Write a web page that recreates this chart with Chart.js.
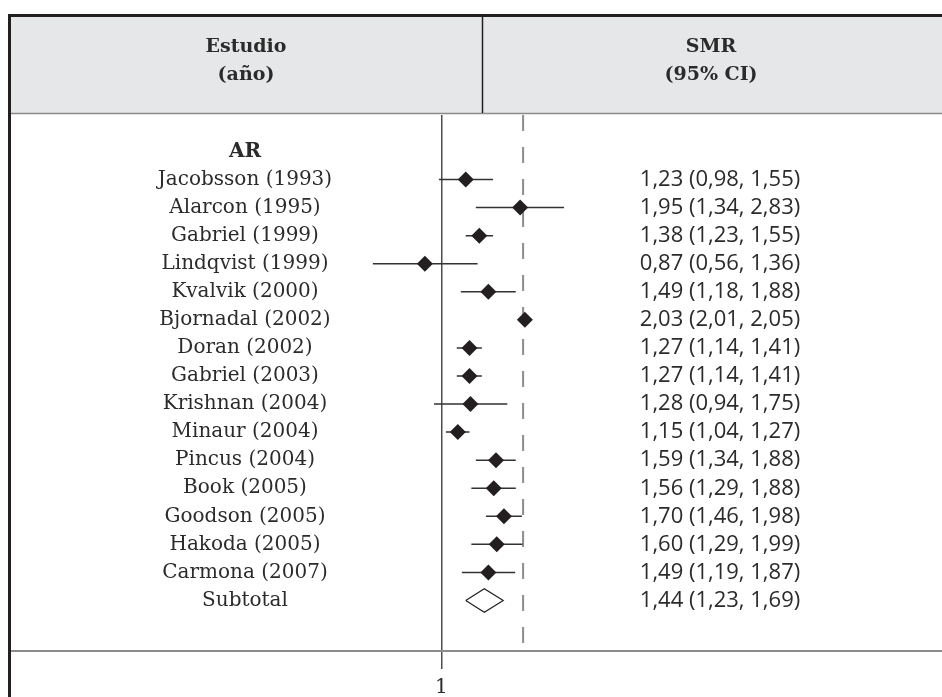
<!DOCTYPE html>
<html>
<head>
<meta charset="utf-8">
<script src="https://cdn.jsdelivr.net/npm/chart.js@4"></script>
<style>
  html, body { margin: 0; padding: 0; background: #fff; }
  canvas { display: block; }
</style>
</head>
<body>
<canvas id="forest" width="942" height="697"></canvas>
<script>
// datos del forest plot (SMR con IC 95%)
const grupo = 'AR';
const estudios = ['Jacobsson (1993)', 'Alarcon (1995)', 'Gabriel (1999)', 'Lindqvist (1999)',
  'Kvalvik (2000)', 'Bjornadal (2002)', 'Doran (2002)', 'Gabriel (2003)', 'Krishnan (2004)',
  'Minaur (2004)', 'Pincus (2004)', 'Book (2005)', 'Goodson (2005)', 'Hakoda (2005)', 'Carmona (2007)'];
const smr   = [1.23, 1.95, 1.38, 0.87, 1.49, 2.03, 1.27, 1.27, 1.28, 1.15, 1.59, 1.56, 1.70, 1.60, 1.49];
const icInf = [0.98, 1.34, 1.23, 0.56, 1.18, 2.01, 1.14, 1.14, 0.94, 1.04, 1.34, 1.29, 1.46, 1.29, 1.19];
const icSup = [1.55, 2.83, 1.55, 1.36, 1.88, 2.05, 1.41, 1.41, 1.75, 1.27, 1.88, 1.88, 1.98, 1.99, 1.87];
const subtotalEtiqueta = 'Subtotal';
const subtotalSmr = [1.44, 1.23, 1.69]; // estimado, inferior, superior
const smrGlobal = 2.0; // linea discontinua
const ticksX = [1];
const cabeceraEstudio = ['Estudio', '(año)'];
const cabeceraSmr = ['SMR', '(95% CI)'];

const filaSub = estudios.length + 1;
const yMin = -1.3, yMax = 17.8;
const coma = v => v.toFixed(2).replace('.', ',');

const puntos = smr.map((v, i) => ({ x: v, y: i + 1 }));
const lineasIC = [];
icInf.forEach((lo, i) => {
  lineasIC.push({ x: lo, y: i + 1 }, { x: icSup[i], y: i + 1 }, { x: null, y: null });
});
const rombo = [
  { x: subtotalSmr[1], y: filaSub },
  { x: subtotalSmr[0], y: filaSub - 0.42 },
  { x: subtotalSmr[2], y: filaSub },
  { x: subtotalSmr[0], y: filaSub + 0.42 },
  { x: subtotalSmr[1], y: filaSub }
];
const lineaGlobal = [{ x: smrGlobal, y: yMin }, { x: smrGlobal, y: yMax }];

const colorTexto = '#2b2b2b';
const fuenteSerif = '"DejaVu Serif", serif';
const fuenteSans = '"Open Sans", sans-serif';

// tabla, cabecera y textos
const tabla = {
  id: 'tabla',
  beforeDraw(chart) {
    const { ctx, width, height } = chart;
    ctx.save();
    ctx.fillStyle = '#fff';
    ctx.fillRect(0, 0, width, height);
    ctx.fillStyle = '#e6e7e8';
    ctx.fillRect(11, 17, width - 11, 96);

    ctx.strokeStyle = '#8a8a8a';
    ctx.lineWidth = 1.5;
    ctx.beginPath(); ctx.moveTo(11, 113.5); ctx.lineTo(width, 113.5); ctx.stroke();

    ctx.strokeStyle = '#231f20';
    ctx.lineWidth = 3;
    ctx.beginPath(); ctx.moveTo(8, 15.5); ctx.lineTo(width, 15.5); ctx.stroke();
    ctx.beginPath(); ctx.moveTo(9.5, 14); ctx.lineTo(9.5, height); ctx.stroke();
    ctx.lineWidth = 1.5;
    ctx.beginPath(); ctx.moveTo(482.5, 17); ctx.lineTo(482.5, 113); ctx.stroke();

    ctx.fillStyle = colorTexto;
    ctx.textAlign = 'center';
    ctx.textBaseline = 'middle';
    ctx.font = 'bold 19px ' + fuenteSerif;
    ctx.fillText(cabeceraEstudio[0], 246, 47);
    ctx.fillText(cabeceraEstudio[1], 246, 75);
    ctx.fillText(cabeceraSmr[0], 711, 47);
    ctx.fillText(cabeceraSmr[1], 711, 75);
    ctx.restore();
  },
  beforeDatasetsDraw(chart) {
    // linea horizontal del eje, de borde a borde
    const { ctx, width } = chart;
    const yEje = chart.chartArea.bottom;
    ctx.save();
    ctx.strokeStyle = '#8c8c8c';
    ctx.lineWidth = 2;
    ctx.beginPath(); ctx.moveTo(11, yEje); ctx.lineTo(width, yEje); ctx.stroke();
    ctx.restore();
  },
  afterDraw(chart) {
    const { ctx } = chart;
    const y = chart.scales.y;
    ctx.save();
    ctx.fillStyle = colorTexto;
    ctx.textAlign = 'center';
    ctx.textBaseline = 'middle';
    ctx.font = 'bold 20px ' + fuenteSerif;
    ctx.fillText(grupo, 245, y.getPixelForValue(0));
    ctx.font = '20px ' + fuenteSerif;
    estudios.forEach((e, i) => ctx.fillText(e, 245, y.getPixelForValue(i + 1)));
    ctx.fillText(subtotalEtiqueta, 245, y.getPixelForValue(filaSub));
    ctx.font = '22px ' + fuenteSans;
    smr.forEach((v, i) => {
      ctx.fillText(coma(v) + ' (' + coma(icInf[i]) + ', ' + coma(icSup[i]) + ')', 720, y.getPixelForValue(i + 1));
    });
    ctx.fillText(coma(subtotalSmr[0]) + ' (' + coma(subtotalSmr[1]) + ', ' + coma(subtotalSmr[2]) + ')',
      720, y.getPixelForValue(filaSub));
    ctx.restore();
  }
};

const ctx = document.getElementById('forest').getContext('2d');
new Chart(ctx, {
  type: 'scatter',
  data: {
    datasets: [
      { // estimaciones
        data: puntos,
        pointStyle: 'rectRot',
        pointRadius: 8,
        backgroundColor: '#231f20',
        borderColor: '#231f20',
        borderWidth: 0,
        order: 0
      },
      { // intervalos de confianza
        data: lineasIC,
        showLine: true,
        spanGaps: false,
        borderColor: '#333',
        borderWidth: 1.5,
        pointRadius: 0,
        order: 1
      },
      { // subtotal
        data: rombo,
        showLine: true,
        borderColor: '#231f20',
        borderWidth: 1.2,
        pointRadius: 0,
        fill: false,
        order: 2
      },
      { // efecto global
        data: lineaGlobal,
        showLine: true,
        borderColor: '#8c8c8c',
        borderWidth: 2,
        borderDash: [16, 16],
        pointRadius: 0,
        order: 3
      }
    ]
  },
  options: {
    responsive: false,
    animation: false,
    layout: { padding: { left: 11, right: 8, top: 115, bottom: 0 } },
    plugins: { legend: { display: false }, tooltip: { enabled: false } },
    scales: {
      x: {
        type: 'logarithmic',
        min: 0.02608,
        max: 65.07,
        afterBuildTicks: axis => { axis.ticks = ticksX.map(v => ({ value: v })); },
        afterFit: axis => { axis.height = 46; },
        grid: { color: '#4d4d4d', lineWidth: 1.5, tickLength: 18, drawOnChartArea: true },
        border: { display: false },
        ticks: {
          autoSkip: false,
          maxRotation: 0,
          padding: 7,
          color: colorTexto,
          font: { family: 'DejaVu Serif', size: 20 },
          callback: v => String(v)
        }
      },
      y: {
        type: 'linear',
        reverse: true,
        min: yMin,
        max: yMax,
        display: false
      }
    }
  },
  plugins: [tabla]
});
</script>
</body>
</html>
